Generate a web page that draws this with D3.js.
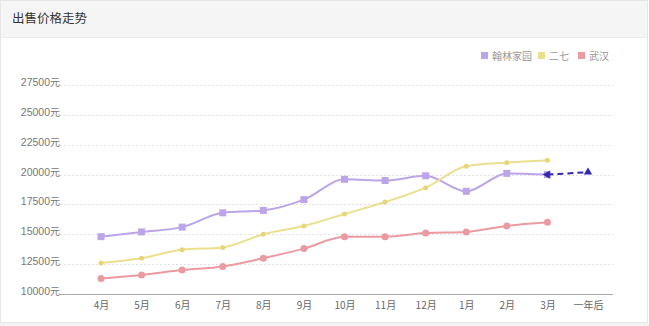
<!DOCTYPE html>
<html><head><meta charset="utf-8">
<script src="https://cdn.jsdelivr.net/npm/d3@7"></script>
<style>
html,body{margin:0;padding:0;background:#fff;}
svg{display:block;font-family:"Noto Sans CJK SC","Noto Sans",sans-serif;}
</style></head>
<body><svg id="c" width="649" height="326"></svg>
<script>
const months = ["4月","5月","6月","7月","8月","9月","10月","11月","12月","1月","2月","3月","一年后"];
const seriesNames = ["翰林家园","二七","武汉"];
const hanlin = [14800,15200,15600,16800,17000,17900,19600,19500,19900,18600,20100,20000];
const erqi   = [12600,13000,13700,13900,15000,15700,16700,17700,18900,20700,21000,21200];
const wuhan  = [11300,11600,12000,12300,13000,13800,14800,14800,15100,15200,15700,16000];
const forecast = [{m:"3月", v:20000},{m:"一年后", v:20200}];
const yTicks = [10000,12500,15000,17500,20000,22500,25000,27500];
const colors = ["#bba5e8","#ebdf8e","#eb9aa2"];

const svg = d3.select("#c");
// panel
svg.append("rect").attr("x",0.5).attr("y",0.5).attr("width",647).attr("height",322)
  .attr("fill","#fff").attr("stroke","#e6e6e6");
svg.append("rect").attr("x",1).attr("y",1).attr("width",646).attr("height",36).attr("fill","#f5f5f5");
svg.append("line").attr("x1",1).attr("x2",647).attr("y1",37.5).attr("y2",37.5).attr("stroke","#ececec");
svg.append("rect").attr("x",0).attr("y",323).attr("width",649).attr("height",3).attr("fill","#f3f3f3");
svg.append("text").attr("x",12).attr("y",23).attr("font-size",12.5).attr("fill","#333").text("出售价格走势");

const x = d3.scalePoint().domain(months).range([101,588]);
const y = d3.scaleLinear().domain([10000,27500]).range([294,85]);
const xl = 60, xr = 613;

// grid
svg.append("g").selectAll("line").data(yTicks.filter(t=>t>10000)).join("line")
  .attr("x1",xl).attr("x2",xr).attr("y1",d=>Math.round(y(d))+0.5).attr("y2",d=>Math.round(y(d))+0.5)
  .attr("stroke","#e2e2e2").attr("stroke-dasharray","2,2");

// y axis labels
const ya = svg.append("g").attr("transform",`translate(${xl},0)`)
  .call(d3.axisLeft(y).tickValues(yTicks).tickSize(0).tickPadding(0).tickFormat(d=>d+"元"));
ya.select(".domain").remove();
ya.selectAll("text").attr("font-size",10).attr("fill","#777").attr("dy","0.05em")
  .style("font-family","'DejaVu Sans','Noto Sans',sans-serif").attr("font-size",9.5);
ya.selectAll("text").filter(d=>true).text(null);
ya.selectAll(".tick").each(function(d){
  const t = d3.select(this).select("text");
  t.append("tspan").style("font-family","'Liberation Sans',sans-serif").attr("font-size",10.5).text(d);
  t.append("tspan").style("font-family","'Noto Sans CJK SC',sans-serif").attr("font-size",10).text("元");
});

// x axis
const xa = svg.append("g").attr("transform",`translate(0,294)`)
  .call(d3.axisBottom(x).tickSize(0).tickPadding(8));
xa.select(".domain").attr("d",`M${xl},0.5H${xr}`).attr("stroke","#aaa").attr("stroke-width",1.2);
xa.selectAll("text").attr("font-size",10).attr("fill","#666")
  .style("font-family","'Noto Sans CJK SC',sans-serif");

// lines
const line = d3.line().x((d,i)=>x(months[i])).y(d=>y(d)).curve(d3.curveMonotoneX);
const data = [hanlin, erqi, wuhan];
data.forEach((s,k)=>{
  svg.append("path").attr("d",line(s)).attr("fill","none").attr("stroke",colors[k]).attr("stroke-width",2);
});
// markers
svg.append("g").selectAll("rect").data(hanlin).join("rect")
  .attr("x",(d,i)=>x(months[i])-3.5).attr("y",d=>y(d)-3.5).attr("width",7).attr("height",7).attr("fill",colors[0]);
svg.append("g").selectAll("circle").data(erqi).join("circle")
  .attr("cx",(d,i)=>x(months[i])).attr("cy",d=>y(d)).attr("r",2.5).attr("fill","#e6d679");
svg.append("g").selectAll("circle").data(wuhan).join("circle")
  .attr("cx",(d,i)=>x(months[i])).attr("cy",d=>y(d)).attr("r",3.5).attr("fill",colors[2]);

// forecast
const fcol = "#3527b0";
svg.append("path").attr("d",d3.line().x(d=>x(d.m)).y(d=>y(d.v))(forecast))
  .attr("fill","none").attr("stroke",fcol).attr("stroke-width",2).attr("stroke-dasharray","6,4");
const tri = d3.symbol().type(d3.symbolTriangle).size(30);
svg.append("g").selectAll("path").data(forecast).join("path")
  .attr("d",tri).attr("transform",(d,i)=>`translate(${x(d.m)},${y(d.v)}) rotate(${i===0?-90:0})`).attr("fill",fcol);

// legend
const lg = svg.append("g");
const lx = [481,538,578];
seriesNames.forEach((n,k)=>{
  lg.append("rect").attr("x",lx[k]).attr("y",52).attr("width",7).attr("height",7).attr("fill",colors[k]);
  lg.append("text").attr("x",lx[k]+11).attr("y",59.5).attr("font-size",10).attr("fill","#999").text(n);
});
</script></body></html>
